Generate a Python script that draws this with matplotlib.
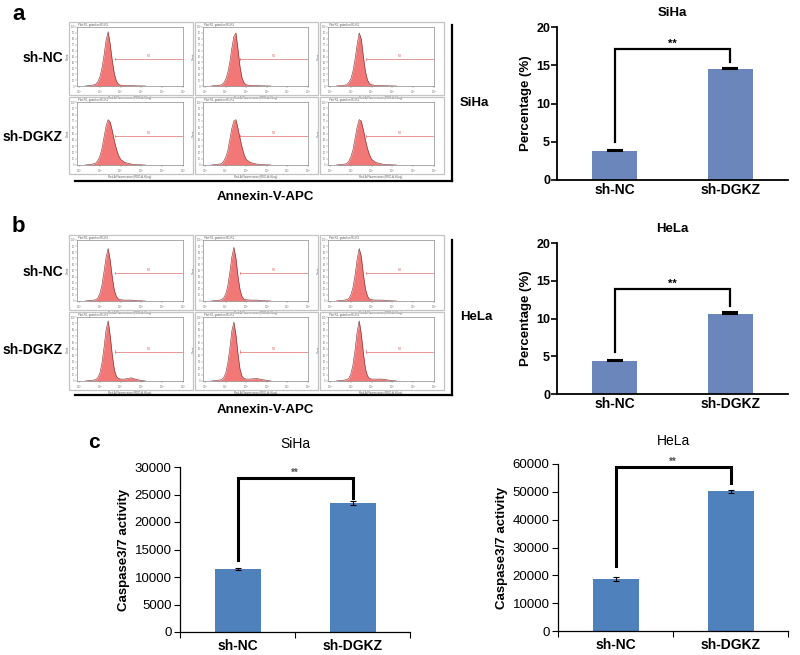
import numpy as np
import matplotlib
matplotlib.use("Agg")
import matplotlib.pyplot as plt
from matplotlib.patches import Rectangle

plt.rcParams['font.family'] = ['Liberation Sans', 'DejaVu Sans']

W, H = 800, 655

# ---- flow histograms (log10 fluorescence vs count) ----
hist_logx = [0.3, 0.6, 0.8, 0.9, 1.0, 1.1, 1.2, 1.3, 1.4, 1.5, 1.6, 1.7, 1.8, 1.9, 2.0,
             2.2, 2.5, 2.8, 3.2]
siha_nc = [
    [0, 1, 3, 7, 15, 30, 52, 78, 92, 70, 42, 20, 8, 3, 1.5, 1, 0.5, 0.3, 0],
    [0, 1, 2, 5, 11, 22, 40, 64, 84, 90, 62, 32, 13, 5, 2, 1, 0.5, 0.3, 0],
    [0, 1, 2, 6, 12, 25, 45, 70, 90, 80, 50, 25, 10, 4, 2, 1, 0.5, 0.3, 0],
]
siha_dgkz = [
    [0, 1, 3, 7, 14, 26, 44, 62, 72, 68, 54, 38, 25, 15, 9, 4, 1.5, 0.5, 0],
    [0, 1, 2, 6, 12, 22, 40, 58, 70, 72, 58, 42, 28, 16, 9, 4, 1.5, 0.5, 0],
    [0, 1, 2, 6, 13, 24, 42, 60, 72, 70, 56, 40, 26, 16, 9, 4, 1.5, 0.5, 0],
]
hela_nc = [
    [0, 1, 2, 5, 12, 26, 48, 72, 86, 66, 38, 17, 7, 3, 2, 1.5, 1.5, 0.5, 0],
    [0, 1, 2, 5, 11, 24, 46, 72, 88, 70, 40, 18, 7, 3, 2, 1.5, 1.5, 0.5, 0],
    [0, 1, 2, 4, 10, 22, 42, 68, 86, 74, 44, 20, 8, 3, 2, 1.5, 1.5, 0.5, 0],
]
hela_dgkz = [
    [0, 1, 2, 5, 12, 28, 52, 80, 94, 70, 40, 17, 7, 4, 3, 3, 5, 2, 0],
    [0, 1, 2, 5, 12, 27, 50, 78, 92, 72, 42, 18, 7, 4, 3, 3, 4, 2, 0],
    [0, 1, 2, 4, 11, 25, 48, 76, 94, 74, 44, 19, 8, 4, 3, 3, 3, 1.5, 0],
]
gate_range = [1.72, 5.0]
gate_level = 46

# ---- bar charts ----
groups = ["sh-NC", "sh-DGKZ"]
pct_siha = [3.8, 14.5]
pct_siha_err = [0.15, 0.1]
pct_hela = [4.4, 10.6]
pct_hela_err = [0.15, 0.3]
casp_siha = [11500, 23500]
casp_siha_err = [200, 350]
casp_hela = [18700, 50200]
casp_hela_err = [600, 500]
# significance brackets: top, left leg end, right leg end
sig_pct_siha = [17.1, 5.0, 15.4]
sig_pct_hela = [13.9, 5.6, 11.6]
sig_casp_siha = [28000, 13100, 24400]
sig_casp_hela = [58900, 23400, 53200]

fig = plt.figure(figsize=(8, 6.55), dpi=100)


def px_axes(x0, y0, x1, y1):
    return fig.add_axes([x0 / W, 1 - y1 / H, (x1 - x0) / W, (y1 - y0) / H])


def ftext(x, y, s, **kw):
    fig.text(x / W, 1 - y / H, s, **kw)


def frame(x0, y0, x1, y1):
    fig.patches.append(Rectangle((x0 / W, 1 - y1 / H), (x1 - x0) / W, (y1 - y0) / H,
                                 transform=fig.transFigure, fill=False,
                                 ec="#c4c4c4", lw=0.9))


def histo(x0, y0, x1, y1, counts):
    frame(x0, y0, x1, y1)
    ax = px_axes(x0 + 8, y0 + 5, x1 - 10, y1 - 9)
    ax.fill_between(hist_logx, counts, color="#f27878", lw=0)
    ax.plot(hist_logx, counts, color="#7a2a2a", lw=0.4)
    ax.plot([-0.2, 5], [0.4, 0.4], color="#333333", lw=0.5)
    ax.plot(gate_range, [gate_level, gate_level], color="#e07070", lw=0.5)
    for gx in gate_range:
        ax.plot([gx, gx], [gate_level - 2, gate_level + 2], color="#e07070", lw=0.5)
    ax.text(np.mean(gate_range), gate_level + 1, "M1", fontsize=2, color="#e07070",
            ha="center", va="bottom")
    ax.set_xlim(-0.1, 5.0)
    ax.set_ylim(0, 100)
    ax.set_xticks(range(6))
    ax.set_xticklabels([f"$10^{i}$" for i in range(6)], fontsize=2, color="#555")
    ax.set_yticks(range(0, 101, 10))
    ax.set_yticklabels([str(v) for v in range(0, 101, 10)], fontsize=1.8, color="#555")
    ax.tick_params(length=1.2, width=0.3, pad=0.4, colors="#777")
    for s in ax.spines.values():
        s.set_color("#8a8a8a")
        s.set_linewidth(0.5)
    ax.set_xlabel("Red-A Fluorescence (RED-A-HLog)", fontsize=2, labelpad=0.2, color="#555")
    ax.set_ylabel("Count", fontsize=2, labelpad=0.2, color="#555")
    ax.text(0.01, 1.005, "Plot R1, gated on R1.R1", transform=ax.transAxes,
            fontsize=2, color="#555", va="bottom")


cols = [(69, 193), (195, 318), (320, 444)]


def flow_block(top_rows, data_rows, labels_y, bracket_y, bracket_top, cell, ann_y):
    for (ry0, ry1), reps in zip(top_rows, data_rows):
        for (cx0, cx1), c in zip(cols, reps):
            histo(cx0, ry0, cx1, ry1, c)
    for ly, g in zip(labels_y, groups):
        ftext(63, ly, g, ha="right", va="center", fontsize=10, fontweight="bold")
    fig.add_artist(plt.Line2D([75 / W, 452 / W], [1 - bracket_y / H] * 2,
                              color="black", lw=1.6, transform=fig.transFigure))
    fig.add_artist(plt.Line2D([452 / W] * 2, [1 - bracket_top / H, 1 - bracket_y / H],
                              color="black", lw=1.6, transform=fig.transFigure))
    ftext(460, (bracket_top + bracket_y) / 2, cell, ha="left", va="center",
          fontsize=9.5, fontweight="bold")
    ftext(265, ann_y, "Annexin-V-APC", ha="center", va="center", fontsize=9.5,
          fontweight="bold")


flow_block([(22, 95), (97, 174)], [siha_nc, siha_dgkz], [58, 137], 181, 25, "SiHa", 197)
flow_block([(235, 310), (312, 390)], [hela_nc, hela_dgkz], [272, 350], 395, 240, "HeLa", 410)

ftext(12, 14, "a", fontsize=16, fontweight="bold", va="center")
ftext(12, 226, "b", fontsize=16, fontweight="bold", va="center")
ftext(88, 443, "c", fontsize=15, fontweight="bold", va="center")


def bracket(ax, sig, txt_color, txt_size, lw):
    top, l, r = sig
    ax.plot([0, 0, 1, 1], [l, top, top, r], color="black", lw=lw,
            solid_joinstyle="miter", clip_on=False)
    ax.text(0.5, top, "**", ha="center", va="bottom", fontsize=txt_size,
            color=txt_color, fontweight="bold")


def prism_bar(rect, vals, errs, sig, title):
    ax = px_axes(*rect)
    x = np.arange(len(groups))
    ax.bar(x, vals, width=0.39, color="#6a86bb")
    ax.errorbar(x, vals, yerr=[[0, 0], errs], fmt="none", ecolor="black",
                capsize=5.5, elinewidth=1.2, capthick=1.5)
    bracket(ax, sig, "black", 8, 1.6)
    ax.set_xlim(-0.5, 1.5)
    ax.set_ylim(0, 20)
    ax.set_yticks([0, 5, 10, 15, 20])
    ax.set_xticks(x)
    ax.set_xticklabels(groups, fontsize=10, fontweight="bold")
    ax.tick_params(axis="x", length=0, pad=2)
    ax.tick_params(axis="y", length=4, width=1.2, labelsize=9, pad=1)
    for lab in ax.get_yticklabels():
        lab.set_fontweight("bold")
    for s in ["top", "right"]:
        ax.spines[s].set_visible(False)
    for s in ["left", "bottom"]:
        ax.spines[s].set_linewidth(1.3)
    ax.set_ylabel("Percentage (%)", fontsize=9.5, fontweight="bold", labelpad=3)
    ax.set_title(title, fontsize=9.5, fontweight="bold", pad=8)


prism_bar((557, 27, 788, 180), pct_siha, pct_siha_err, sig_pct_siha, "SiHa")
prism_bar((557, 243, 788, 394), pct_hela, pct_hela_err, sig_pct_hela, "HeLa")


def excel_bar(rect, vals, errs, sig, title, ymax, step):
    ax = px_axes(*rect)
    x = np.arange(len(groups))
    ax.bar(x, vals, width=0.4, color="#4f81bd")
    ax.errorbar(x, vals, yerr=errs, fmt="none", ecolor="black",
                capsize=2, elinewidth=0.8, capthick=0.8)
    bracket(ax, sig, "#555555", 7, 2.2)
    ax.set_xlim(-0.5, 1.5)
    ax.set_ylim(0, ymax)
    ax.set_yticks(np.arange(0, ymax + 1, step))
    ax.set_xticks(x)
    ax.set_xticklabels(groups, fontsize=10, fontweight="bold")
    ax.set_xticks([-0.5, 0.5, 1.5], minor=True)
    ax.tick_params(axis="x", which="major", length=0, pad=5)
    ax.tick_params(axis="x", which="minor", length=4, width=0.8)
    ax.tick_params(axis="y", length=4, width=0.8, labelsize=9.5, pad=2)
    for s in ["top", "right"]:
        ax.spines[s].set_visible(False)
    for s in ["left", "bottom"]:
        ax.spines[s].set_linewidth(0.9)
    ax.set_ylabel("Caspase3/7 activity", fontsize=9.5, fontweight="bold", labelpad=3)
    ax.set_title(title, fontsize=10, pad=14)


excel_bar((180, 467, 410, 632), casp_siha, casp_siha_err, sig_casp_siha, "SiHa", 30000, 5000)
excel_bar((558, 464, 788, 631), casp_hela, casp_hela_err, sig_casp_hela, "HeLa", 60000, 10000)

fig.savefig("out.png", dpi=100)
